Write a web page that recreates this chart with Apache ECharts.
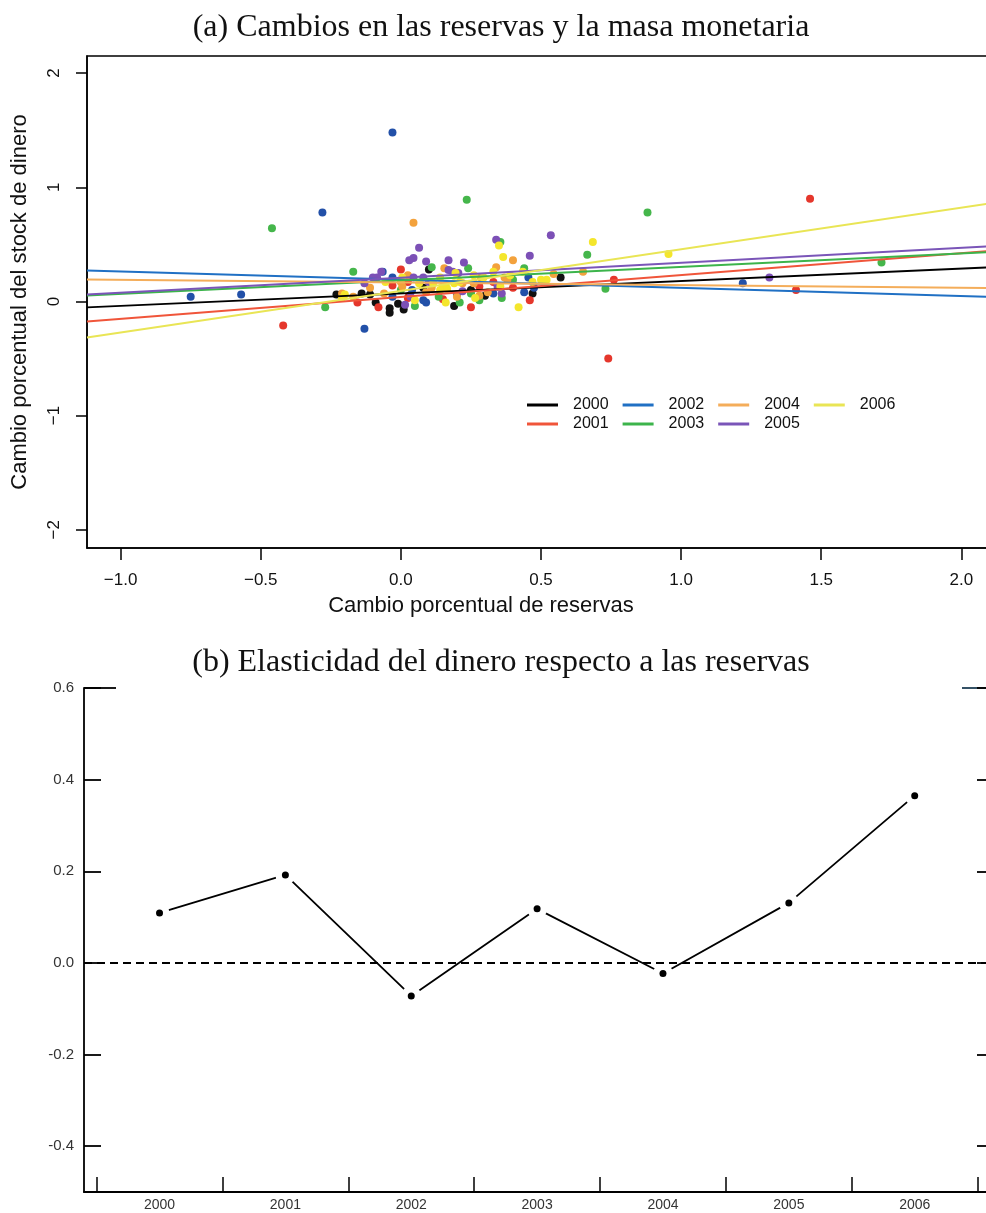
<!DOCTYPE html>
<html>
<head>
<meta charset="utf-8">
<script src="https://cdn.jsdelivr.net/npm/echarts@6/dist/echarts.min.js"></script>
<style>
  html, body { margin: 0; padding: 0; background: #fff; }
  #chart-container { width: 986px; height: 1213px; }
</style>
</head>
<body>
<div id="chart-container"></div>
<script>
// years and the elasticity (slope of each year's regression line)
var years = ['2000', '2001', '2002', '2003', '2004', '2005', '2006'];
var yearNums = [2000, 2001, 2002, 2003, 2004, 2005, 2006];
var elasticity = [0.109, 0.192, -0.072, 0.118, -0.023, 0.131, 0.365];
// intercept of each fitted line (value at x = 0)
var intercepts = [0.070, 0.039, 0.191, 0.184, 0.166, 0.207, 0.092];

// scatter points (cambio reservas, cambio dinero) per year
var pts2000 = [[-0.23,0.06],[-0.14,0.07],[-0.11,0.06],[-0.09,-0.01],[-0.04,-0.06],[-0.04,-0.10],[-0.01,-0.02],[0.01,-0.07],[0.10,0.28],[0.19,-0.04],[0.30,0.05],[0.47,0.07],[0.57,0.21],[0.08,0.12],[0.25,0.10],[0.03,0.05]];
var pts2001 = [[-0.42,-0.21],[-0.155,-0.01],[-0.08,-0.05],[0.0,0.28],[0.025,0.03],[-0.03,0.14],[0.25,-0.05],[0.28,0.13],[0.40,0.12],[0.46,0.01],[0.74,-0.50],[1.46,0.90],[1.41,0.10],[0.76,0.19],[0.15,0.02],[0.33,0.17],[0.025,0.17]];
var pts2002 = [[-0.03,1.48],[-0.28,0.78],[-0.75,0.04],[-0.57,0.06],[-0.13,-0.24],[-0.065,0.26],[-0.03,0.21],[-0.03,0.04],[0.04,0.10],[0.08,0.01],[0.09,-0.01],[0.20,0.06],[0.33,0.07],[0.35,0.13],[0.44,0.08],[0.455,0.21],[0.475,0.12],[1.22,0.16]];
var pts2003 = [[-0.46,0.64],[0.235,0.89],[-0.27,-0.05],[-0.17,0.26],[0.11,0.30],[0.05,-0.04],[0.135,0.04],[0.21,-0.01],[0.25,0.07],[0.28,0.01],[0.24,0.29],[0.355,0.52],[0.44,0.29],[0.36,0.03],[0.665,0.41],[0.88,0.78],[0.73,0.11],[1.715,0.34],[0.40,0.19],[0.0,0.10]];
var pts2004 = [[0.045,0.69],[0.155,0.29],[0.025,0.23],[0.005,0.13],[-0.06,0.07],[-0.21,0.07],[-0.17,0.04],[0.09,0.08],[0.11,0.12],[0.22,0.16],[0.34,0.30],[0.40,0.36],[0.545,0.24],[0.65,0.26],[0.37,0.21],[0.285,0.21],[0.31,0.08],[0.28,0.05],[0.20,0.04],[-0.11,0.12],[0.0,0.17],[0.26,0.16],[0.38,0.19]];
var pts2005 = [[0.535,0.58],[0.065,0.47],[0.03,0.36],[0.045,0.38],[0.09,0.35],[0.17,0.36],[0.225,0.34],[-0.07,0.26],[-0.085,0.21],[-0.10,0.21],[-0.13,0.16],[0.045,0.21],[0.08,0.21],[0.10,0.17],[0.185,0.26],[0.205,0.25],[0.015,-0.03],[0.035,0.04],[0.22,0.09],[0.34,0.54],[0.46,0.40],[0.36,0.07],[1.315,0.21],[0.17,0.275],[0.345,0.13]];
var pts2006 = [[0.685,0.52],[0.955,0.415],[0.42,-0.05],[0.35,0.49],[0.365,0.39],[0.26,0.23],[0.195,0.25],[0.435,0.26],[0.50,0.19],[0.52,0.19],[0.355,0.13],[0.265,0.03],[0.15,0.13],[0.16,0.14],[0.14,0.10],[0.165,0.11],[0.14,0.21],[0.19,0.16],[0.005,0.21],[-0.055,0.17],[0.065,0.16],[0.05,0.01],[0.16,-0.01],[-0.20,0.06],[-0.21,0.03],[0.115,0.16],[0.21,0.17],[0.295,0.21],[0.33,0.26],[0.39,0.23],[0.47,0.17]];
var points = [pts2000, pts2001, pts2002, pts2003, pts2004, pts2005, pts2006];

// tick labels
var xTicksA = [-1.0, -0.5, 0.0, 0.5, 1.0, 1.5, 2.0];
var yTicksA = [-2, -1, 0, 1, 2];
var yTicksB = [-0.4, -0.2, 0.0, 0.2, 0.4, 0.6];
var xTickBoundsB = [1999.5, 2000.5, 2001.5, 2002.5, 2003.5, 2004.5, 2005.5, 2006.5];

var dotColors = ['#111111', '#e5372c', '#2250a8', '#45b64b', '#f3a23c', '#7c50b6', '#f4e62c'];
var lineColors = ['#000000', '#f0553a', '#2070c4', '#3cb44b', '#f4ad5a', '#7a55b8', '#e9e555'];

var xMinA = -1.12, xMaxA = 2.12;
var sans = 'Liberation Sans';
var minus = function (s) { return s.replace('-', '\u2212'); };

var series = [];
years.forEach(function (yr, i) {
  series.push({
    name: 'obs ' + yr,
    type: 'scatter',
    xAxisIndex: 0, yAxisIndex: 0,
    data: points[i],
    symbolSize: 8,
    itemStyle: { color: dotColors[i], opacity: 1 },
    silent: true,
    z: 2
  });
});
years.forEach(function (yr, i) {
  var a = intercepts[i], b = elasticity[i];
  series.push({
    name: yr,
    type: 'line',
    xAxisIndex: 0, yAxisIndex: 0,
    data: [[xMinA, a + b * xMinA], [xMaxA, a + b * xMaxA]],
    symbol: 'none',
    lineStyle: { color: lineColors[i], width: 2 },
    itemStyle: { color: lineColors[i] },
    silent: true,
    z: 3
  });
});

var elastData = yearNums.map(function (y, i) { return [y, elasticity[i]]; });
series.push({
  name: 'elasticidad',
  type: 'line',
  xAxisIndex: 1, yAxisIndex: 1,
  data: elastData,
  symbol: 'none',
  lineStyle: { color: '#000', width: 1.8 },
  silent: true,
  z: 2,
  markLine: {
    silent: true,
    symbol: 'none',
    label: { show: false },
    lineStyle: { type: [8, 5], color: '#000', width: 1.8 },
    data: [{ yAxis: 0 }]
  }
});
// white halo so the segments stop short of the points
series.push({
  name: 'halo', type: 'scatter', xAxisIndex: 1, yAxisIndex: 1,
  data: elastData, symbolSize: 20, itemStyle: { color: '#fff', opacity: 1 }, silent: true, z: 3
});
series.push({
  name: 'puntos', type: 'scatter', xAxisIndex: 1, yAxisIndex: 1,
  data: elastData, symbolSize: 7, itemStyle: { color: '#000', opacity: 1 }, silent: true, z: 4
});

var legendBase = {
  left: 527,
  orient: 'horizontal',
  padding: 0,
  icon: 'rect',
  itemWidth: 31,
  itemHeight: 3,
  itemGap: 14,
  selectedMode: false,
  textStyle: { fontFamily: sans, fontSize: 16, color: '#111', padding: [0, 0, 0, 10] }
};

var dom = document.getElementById('chart-container');
var myChart = echarts.init(dom, null, { renderer: 'canvas' });

var option = {
  animation: false,
  backgroundColor: '#fff',
  title: [
    {
      text: '(a) Cambios en las reservas y la masa monetaria',
      left: 501, top: 12, textAlign: 'center', padding: 0,
      textStyle: { fontFamily: 'Liberation Serif', fontSize: 32, fontWeight: 'normal', color: '#111' }
    },
    {
      text: '(b) Elasticidad del dinero respecto a las reservas',
      left: 501, top: 647, textAlign: 'center', padding: 0,
      textStyle: { fontFamily: 'Liberation Serif', fontSize: 32, fontWeight: 'normal', color: '#111' }
    },
    {
      text: 'Cambio porcentual de reservas',
      left: 481, top: 595, textAlign: 'center', padding: 0,
      textStyle: { fontFamily: sans, fontSize: 22, fontWeight: 'normal', color: '#111' }
    }
  ],
  legend: [
    Object.assign({}, legendBase, { top: 397, data: ['2000', '2002', '2004', '2006'] }),
    Object.assign({}, legendBase, { top: 416, data: ['2001', '2003', '2005'] })
  ],
  grid: [
    { left: 87, top: 56, right: -9, height: 492, show: true, borderColor: '#000', borderWidth: 1.5,
      containLabel: false, outerBoundsMode: 'none' },
    { left: 84, top: 688, right: -8, height: 504, containLabel: false, outerBoundsMode: 'none' }
  ],
  xAxis: [
    {
      type: 'value', gridIndex: 0, min: xMinA, max: xMaxA,
      axisLine: { show: true, onZero: false, lineStyle: { color: '#000', width: 1.5 } },
      axisTick: { show: true, length: 12, customValues: xTicksA, lineStyle: { color: '#000', width: 1.5 } },
      axisLabel: {
        customValues: xTicksA, margin: 24, fontSize: 17, fontFamily: sans, color: '#111',
        formatter: function (v) { return minus(v.toFixed(1)); }
      },
      splitLine: { show: false }
    },
    {
      type: 'value', gridIndex: 1, min: 1999.4, max: 2006.63,
      axisLine: { show: true, onZero: false, lineStyle: { color: '#000', width: 1.8 } },
      axisTick: { show: true, inside: true, length: 15, customValues: xTickBoundsB, lineStyle: { color: '#000', width: 1.5 } },
      axisLabel: {
        customValues: yearNums, margin: 6, fontSize: 14, fontFamily: sans, color: '#333',
        formatter: function (v) { return String(Math.round(v)); }
      },
      splitLine: { show: false }
    }
  ],
  yAxis: [
    {
      type: 'value', gridIndex: 0, min: -2.16, max: 2.15,
      name: 'Cambio porcentual del stock de dinero',
      nameLocation: 'middle', nameRotate: 90, nameGap: 56,
      nameTextStyle: { fontFamily: sans, fontSize: 22, color: '#111' },
      axisLine: { show: true, onZero: false, lineStyle: { color: '#000', width: 1.5 } },
      axisTick: { show: true, length: 11, customValues: yTicksA, lineStyle: { color: '#000', width: 1.5 } },
      axisLabel: {
        customValues: yTicksA, rotate: 90, margin: 24, fontSize: 17, fontFamily: sans, color: '#111',
        formatter: function (v) { return minus(String(v)); }
      },
      splitLine: { show: false }
    },
    {
      type: 'value', gridIndex: 1, min: -0.5, max: 0.6,
      axisLine: { show: true, onZero: false, lineStyle: { color: '#000', width: 1.8 } },
      axisTick: { show: true, inside: true, length: 17, customValues: yTicksB, lineStyle: { color: '#000', width: 1.8 } },
      axisLabel: {
        customValues: yTicksB, margin: 10, fontSize: 15, fontFamily: sans, color: '#333',
        formatter: function (v) { return v.toFixed(1); }
      },
      splitLine: { show: false }
    },
    {
      type: 'value', gridIndex: 1, min: -0.5, max: 0.6, position: 'right',
      axisLine: { show: true, onZero: false, lineStyle: { color: '#000', width: 1.8 } },
      axisTick: { show: true, inside: true, length: 17, customValues: yTicksB, lineStyle: { color: '#000', width: 1.8 } },
      axisLabel: { show: false },
      splitLine: { show: false }
    }
  ],
  graphic: [
    { type: 'line', shape: { x1: 84, y1: 688, x2: 116, y2: 688 }, style: { stroke: '#000', lineWidth: 1.8 } },
    { type: 'line', shape: { x1: 962, y1: 688, x2: 986, y2: 688 }, style: { stroke: '#1f3f55', lineWidth: 1.8 } }
  ],
  series: series
};

myChart.setOption(option);
window.addEventListener('resize', myChart.resize);
</script>
</body>
</html>
